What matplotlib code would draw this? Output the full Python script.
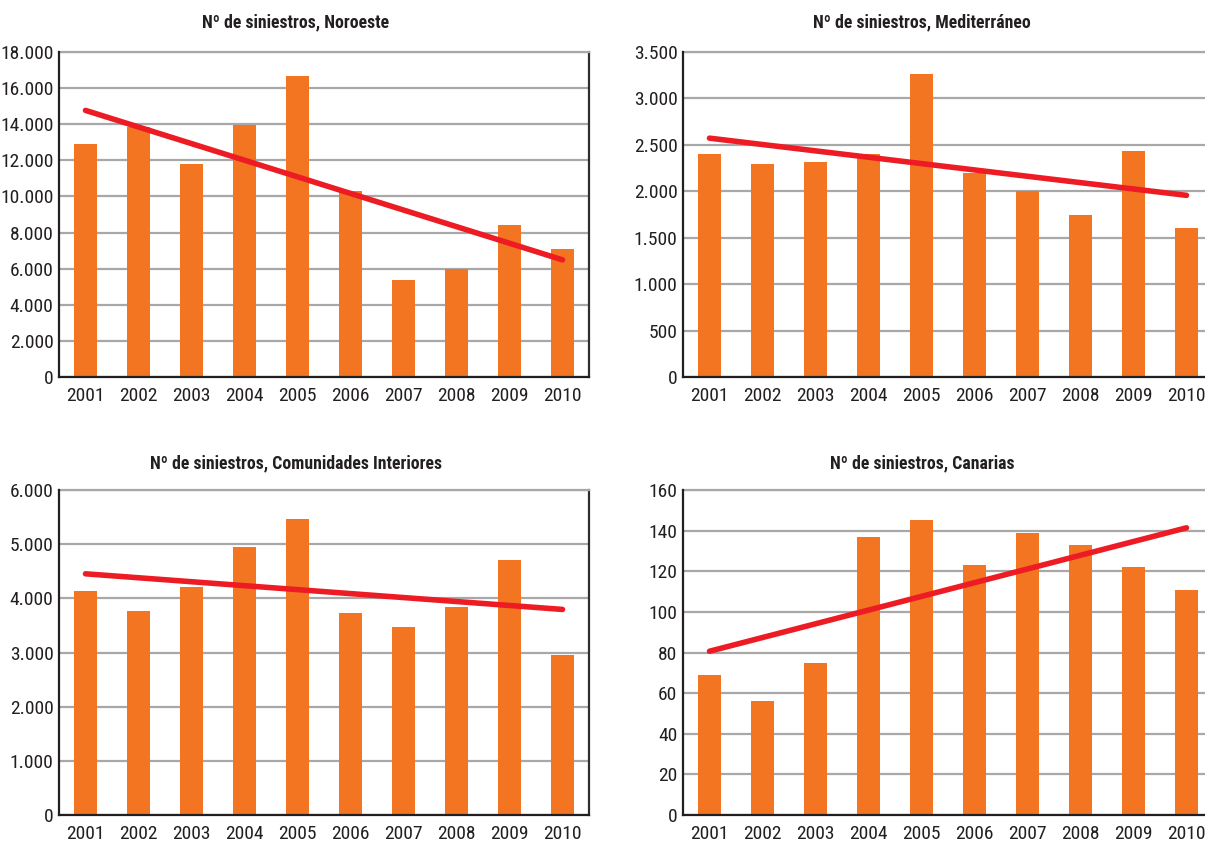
import numpy as np
import matplotlib
matplotlib.use("Agg")
import matplotlib.pyplot as plt
from matplotlib import font_manager as fm
from matplotlib.ticker import FuncFormatter, MultipleLocator

years = ["2001", "2002", "2003", "2004", "2005", "2006", "2007", "2008", "2009", "2010"]

noroeste = [12900, 13850, 11800, 13950, 16650, 10300, 5350, 6000, 8400, 7070]
mediterraneo = [2400, 2290, 2312, 2400, 3260, 2200, 2000, 1750, 2430, 1600]
interiores = [4140, 3770, 4210, 4950, 5460, 3730, 3470, 3840, 4710, 2960]
canarias = [69, 56, 75, 137, 145, 123, 139, 133, 122, 111]

titles = ["Nº de siniestros, Noroeste", "Nº de siniestros, Mediterráneo",
          "Nº de siniestros, Comunidades Interiores", "Nº de siniestros, Canarias"]
series = [noroeste, mediterraneo, interiores, canarias]
ymax = [18000, 3500, 6000, 160]
ystep = [2000, 500, 1000, 20]

BAR = "#F47521"
LINE = "#ED1C24"
GRID = "#A8A8A8"
TXT = "#231F20"

# ---- pick a condensed font if one is installed ----
STRETCH = {'ultra-condensed': 100, 'extra-condensed': 200, 'condensed': 300,
           'semi-condensed': 400, 'normal': 500}

def stretch_val(f):
    s = f.stretch
    if isinstance(s, str):
        return STRETCH.get(s.lower(), 500)
    try:
        return int(s)
    except Exception:
        return 500

def weight_val(f):
    w = f.weight
    if isinstance(w, str):
        return {'normal': 400, 'regular': 400, 'book': 400, 'medium': 500,
                'bold': 700, 'semibold': 600, 'demibold': 600, 'light': 300,
                'heavy': 800, 'black': 900}.get(w.lower(), 400)
    return int(w)

cands = []
for f in fm.fontManager.ttflist:
    nm = f.name.lower()
    if f.style != 'normal':
        continue
    if stretch_val(f) <= 400 or 'condensed' in nm or 'narrow' in nm:
        cands.append(f)

pref = ['roboto condensed', 'liberation sans narrow', 'noto sans', 'open sans',
        'dejavu sans', 'roboto', 'lato', 'inter']

def pick(target_w):
    best = None
    bestkey = None
    for f in cands:
        nm = f.name.lower()
        rank = len(pref)
        for j, p in enumerate(pref):
            if nm.startswith(p):
                rank = j
                break
        key = (abs(weight_val(f) - target_w), rank, stretch_val(f))
        if bestkey is None or key < bestkey:
            best, bestkey = f, key
    return best

freg = pick(400)
fbold = pick(700)
if freg is not None:
    PREG = fm.FontProperties(fname=freg.fname)
    PBOLD = fm.FontProperties(fname=fbold.fname) if fbold is not None else PREG
    TICK_SIZE, TITLE_SIZE = 14, 12.8
else:
    PREG = fm.FontProperties(family='Liberation Sans')
    PBOLD = fm.FontProperties(family='Liberation Sans', weight='bold')
    TICK_SIZE, TITLE_SIZE = 11.5, 11.5

W, H = 1205, 843
fig = plt.figure(figsize=(W / 100, H / 100), dpi=100)

boxes = [(59, 52, 589, 377), (683, 52, 1213, 377),
         (59, 490, 589, 815), (683, 490, 1213, 815)]
title_pos = [(296, 22), (922, 22), (296, 463), (922, 463)]

def fmt(v, pos):
    return f"{int(round(v)):,}".replace(",", ".")

for i in range(4):
    l, t, r, b = boxes[i]
    ax = fig.add_axes([l / W, 1 - b / H, (r - l) / W, (b - t) / H])
    x = np.arange(len(years)) + 0.5
    y = np.array(series[i], dtype=float)
    ax.bar(x, y, width=0.42, color=BAR, zorder=3)
    k, c = np.polyfit(x, y, 1)
    ax.plot([x[0], x[-1]], [k * x[0] + c, k * x[-1] + c], color=LINE,
            lw=4.0, solid_capstyle='round', zorder=4)
    ax.set_xlim(0, len(years))
    ax.set_ylim(0, ymax[i])
    ax.yaxis.set_major_locator(MultipleLocator(ystep[i]))
    ax.yaxis.set_major_formatter(FuncFormatter(fmt))
    ax.set_xticks(x)
    ax.set_xticklabels(years)
    ax.tick_params(axis='both', length=0, colors=TXT)
    ax.tick_params(axis='x', pad=7)
    ax.tick_params(axis='y', pad=4)
    for lab in ax.get_xticklabels() + ax.get_yticklabels():
        lab.set_fontproperties(PREG)
        lab.set_fontsize(TICK_SIZE)
    ax.grid(axis='y', color=GRID, lw=1.6, zorder=0)
    ax.set_axisbelow(True)
    for s in ['left', 'bottom']:
        ax.spines[s].set_color(TXT)
        ax.spines[s].set_linewidth(1.6)
        ax.spines[s].set_zorder(5)
    ax.spines['right'].set_color('#2E2E2E')
    ax.spines['right'].set_linewidth(1.6)
    ax.spines['top'].set_color(GRID)
    ax.spines['top'].set_linewidth(1.6)
    tx, ty = title_pos[i]
    fig.text(tx / W, 1 - ty / H, titles[i], ha='center', va='center',
             fontproperties=PBOLD, fontsize=TITLE_SIZE, color=TXT)

fig.savefig("out.png", dpi=100)
